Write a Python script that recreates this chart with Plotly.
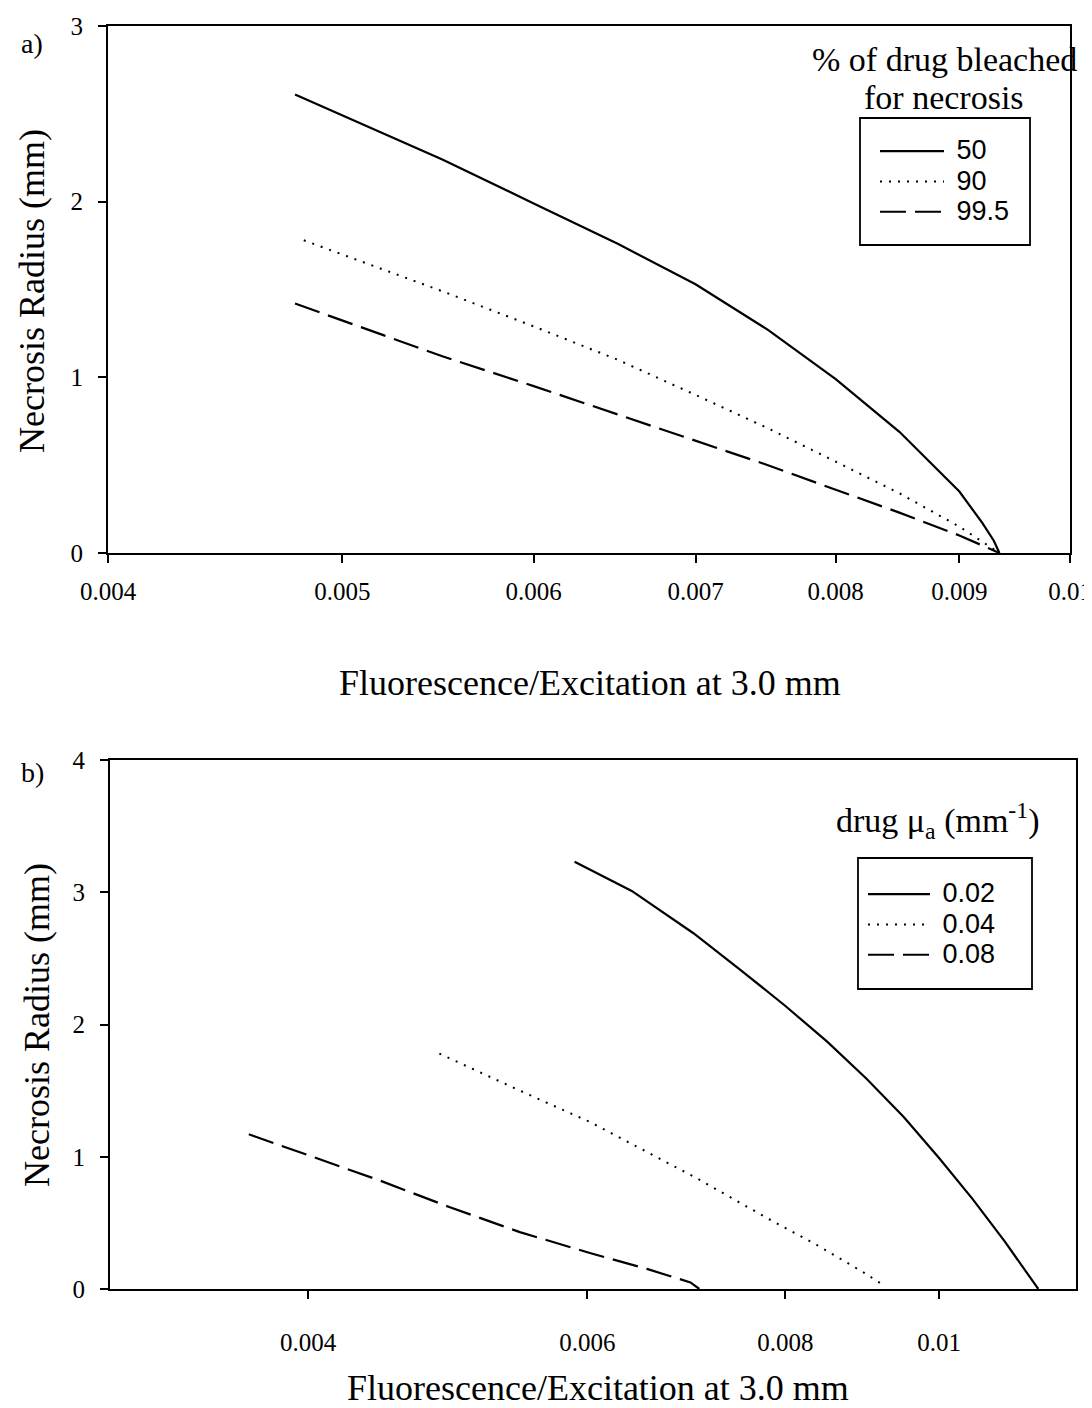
import math
import plotly.graph_objects as go

# ---------------- data (panel a) ----------------
a_x_50 = [0.00478, 0.0051, 0.0055, 0.006, 0.0065, 0.007, 0.0075, 0.008, 0.0085, 0.009,
          0.0092, 0.0093, 0.00935]
a_y_50 = [2.61, 2.44, 2.24, 1.99, 1.76, 1.53, 1.27, 0.99, 0.69, 0.35, 0.17, 0.07, 0.0]
a_x_90 = [0.00482, 0.0055, 0.006, 0.0065, 0.007, 0.0075, 0.008, 0.0085, 0.009, 0.00935]
a_y_90 = [1.78, 1.49, 1.29, 1.10, 0.90, 0.71, 0.52, 0.34, 0.15, 0.0]
a_x_995 = [0.00478, 0.0055, 0.006, 0.0065, 0.007, 0.0075, 0.008, 0.0085, 0.009, 0.00935]
a_y_995 = [1.42, 1.12, 0.95, 0.79, 0.64, 0.50, 0.36, 0.23, 0.10, 0.0]
a_names = ["50", "90", "99.5"]
a_xticks = [0.004, 0.005, 0.006, 0.007, 0.008, 0.009, 0.01]
a_xticklabels = ["0.004", "0.005", "0.006", "0.007", "0.008", "0.009", "0.01"]
a_yticks = [0, 1, 2, 3]

# ---------------- data (panel b) ----------------
b_x_002 = [0.00589, 0.0064, 0.007, 0.0075, 0.008, 0.0085, 0.009, 0.0095, 0.01, 0.0105,
           0.011, 0.0113, 0.01145, 0.01155]
b_y_002 = [3.23, 3.01, 2.69, 2.41, 2.14, 1.87, 1.59, 1.30, 0.99, 0.68, 0.36, 0.16, 0.06, 0.0]
b_x_004 = [0.00484, 0.00544, 0.00603, 0.00655, 0.00704, 0.00778, 0.00839, 0.00896, 0.00925]
b_y_004 = [1.78, 1.50, 1.26, 1.03, 0.835, 0.54, 0.327, 0.126, 0.02]
b_x_008 = [0.00367, 0.00405, 0.00444, 0.00491, 0.00544, 0.00603, 0.00655, 0.00697, 0.00706]
b_y_008 = [1.17, 0.99, 0.82, 0.62, 0.43, 0.27, 0.15, 0.05, 0.0]
b_names = ["0.02", "0.04", "0.08"]
b_xticks = [0.004, 0.006, 0.008, 0.01]
b_xticklabels = ["0.004", "0.006", "0.008", "0.01"]
b_yticks = [0, 1, 2, 3, 4]

# page body has an 8px margin; the figure is sized so that it fills the 1092x1408 window
OFF = 8
W, H = 1092 - OFF, 1408 - OFF
SERIF = "Liberation Serif, Times New Roman, serif"
SANS = "Liberation Sans, Arial, sans-serif"


def px_x(p):
    return (p - OFF) / W


def px_y(p):
    return 1 - (p - OFF) / H


styles = [dict(color="black", width=2.2, dash="solid"),
          dict(color="black", width=2, dash="2px,7px"),
          dict(color="black", width=2.2, dash="26px,9px")]


def legend_label(t):
    return '<span style="font-size:27px">\u00a0' + t + '</span>'


fig = go.Figure()
for xs, ys, nm, st in zip([a_x_50, a_x_90, a_x_995], [a_y_50, a_y_90, a_y_995], a_names, styles):
    fig.add_trace(go.Scatter(x=xs, y=ys, name=legend_label(nm), mode="lines", line=st,
                             xaxis="x", yaxis="y", legend="legend"))
for xs, ys, nm, st in zip([b_x_002, b_x_004, b_x_008], [b_y_002, b_y_004, b_y_008], b_names, styles):
    fig.add_trace(go.Scatter(x=xs, y=ys, name=legend_label(nm), mode="lines", line=st,
                             xaxis="x2", yaxis="y2", legend="legend2"))

axis_common = dict(showline=True, linecolor="black", linewidth=2, mirror=True,
                   ticks="outside", ticklen=8, tickwidth=1.5, tickcolor="black",
                   showgrid=False, zeroline=False, automargin=False,
                   tickfont=dict(family=SERIF, size=25, color="black"))

legend_common = dict(xanchor="left", yanchor="top", bgcolor="rgba(0,0,0,0)",
                     borderwidth=0, font=dict(family=SANS, size=21, color="black"),
                     tracegroupgap=0)

fig.update_layout(
    width=W, height=H,
    margin=dict(l=0, r=0, t=0, b=0, pad=0, autoexpand=False),
    paper_bgcolor="white", plot_bgcolor="white",
    showlegend=True,
    xaxis=dict(type="log", domain=[px_x(108), px_x(1070)],
               range=[math.log10(0.004), math.log10(0.01)],
               tickmode="array", tickvals=a_xticks, ticktext=a_xticklabels,
               ticklabelstandoff=7, anchor="y", **axis_common),
    yaxis=dict(domain=[px_y(553), px_y(26)], range=[0, 3],
               tickmode="array", tickvals=a_yticks, ticktext=[str(v) for v in a_yticks],
               ticklabelstandoff=10, anchor="x", **axis_common),
    xaxis2=dict(type="log", domain=[px_x(110), px_x(1076)],
                range=[math.log10(0.003), math.log10(0.0122)],
                tickmode="array", tickvals=b_xticks, ticktext=b_xticklabels,
                ticklabelstandoff=22, anchor="y2", **axis_common),
    yaxis2=dict(domain=[px_y(1289), px_y(760)], range=[0, 4],
                tickmode="array", tickvals=b_yticks, ticktext=[str(v) for v in b_yticks],
                ticklabelstandoff=10, anchor="x2", **axis_common),
    legend=dict(x=px_x(875), y=px_y(131), itemwidth=64, **legend_common),
    legend2=dict(x=px_x(863), y=px_y(874), itemwidth=62, **legend_common),
)

# legend frames (around the legend entries, below the legend titles)
frame = dict(type="rect", xref="paper", yref="paper", line=dict(color="black", width=1.8),
             fillcolor="rgba(0,0,0,0)", layer="above")
fig.add_shape(x0=px_x(860), x1=px_x(1030), y0=px_y(245), y1=px_y(118), **frame)
fig.add_shape(x0=px_x(858), x1=px_x(1032), y0=px_y(989), y1=px_y(858), **frame)

ann_font = dict(family=SERIF, size=36, color="black")


def ann(text, x, y, font, angle=0):
    return dict(text=text, x=px_x(x), y=px_y(y), xref="paper", yref="paper",
                xanchor="center", yanchor="middle", textangle=angle,
                showarrow=False, font=font)


lab_font = dict(family=SERIF, size=28, color="black")
leg_title_font = dict(family=SERIF, size=34, color="black")
annotations = [
    ann("a)", 32, 43, lab_font),
    ann("b)", 32, 772, lab_font),
    ann("Necrosis Radius (mm)", 32, 291, ann_font, -90),
    ann("Necrosis Radius (mm)", 37, 1025, ann_font, -90),
    ann("Fluorescence/Excitation at 3.0 mm", 590, 683, ann_font),
    ann("Fluorescence/Excitation at 3.0 mm", 598, 1388, ann_font),
    ann("% of drug bleached", 944, 59, leg_title_font),
    ann("for necrosis", 944, 97, leg_title_font),
    ann("drug μ<sub>a</sub> (mm<sup>-1</sup>)", 938, 820, dict(family=SERIF, size=34, color="black")),
]
fig.update_layout(annotations=annotations)

fig.write_html("out.html")
